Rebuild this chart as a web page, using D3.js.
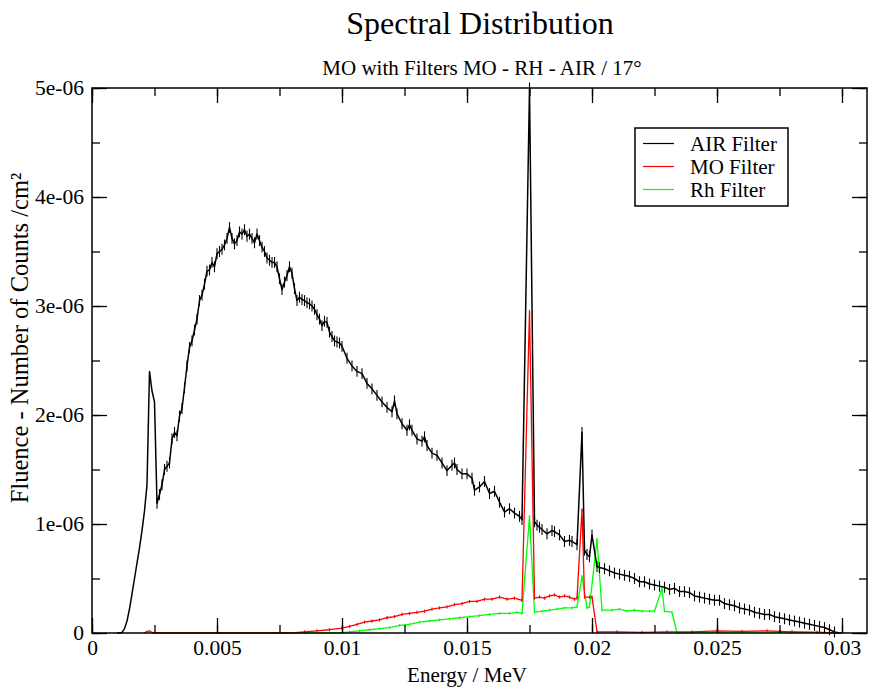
<!DOCTYPE html>
<html>
<head>
<meta charset="utf-8">
<script src="https://cdn.jsdelivr.net/npm/d3@7"></script>
<style>
  body { margin: 0; background: #fff; }
  svg { display: block; font-family: "Liberation Serif", "Times New Roman", serif; }
</style>
</head>
<body>
<svg id="chart"></svg>
<script>
// Energy in MeV, fluence in units of 1e-6 counts/cm²
const airFilter = [
  [0.0010,0],[0.0011,0],[0.0012,0.005],[0.0013,0.04],[0.0014,0.11],[0.0015,0.22],[0.0016,0.36],
  [0.0017,0.50],[0.0018,0.64],[0.0019,0.78],[0.0020,0.94],[0.0021,1.12],[0.0022,1.36],[0.0023,2.40],
  [0.0024,2.22],[0.0025,2.12],[0.0026,1.19],[0.0027,1.27],[0.0028,1.36],[0.0029,1.50],[0.0030,1.53],
  [0.0031,1.56],[0.0032,1.78],[0.0033,1.84],[0.0034,1.81],[0.0035,1.99],[0.0036,2.06],[0.0037,2.25],
  [0.0038,2.45],[0.0039,2.62],[0.0040,2.68],[0.0041,2.78],[0.0042,2.88],[0.0043,3.05],[0.0044,3.10],
  [0.0045,3.20],[0.0046,3.32],[0.0047,3.33],[0.0048,3.40],[0.0049,3.36],[0.0050,3.48],[0.0051,3.50],
  [0.0052,3.52],[0.0053,3.56],[0.0054,3.62],[0.0055,3.72],[0.0056,3.62],[0.0057,3.57],[0.0058,3.60],
  [0.0059,3.68],[0.0060,3.66],[0.0061,3.70],[0.0062,3.64],[0.0063,3.66],[0.0064,3.62],[0.0065,3.58],
  [0.0066,3.66],[0.0067,3.60],[0.0068,3.54],[0.0069,3.50],[0.0070,3.44],[0.0071,3.42],[0.0072,3.40],
  [0.0073,3.40],[0.0074,3.36],[0.0075,3.25],[0.0076,3.15],[0.0077,3.22],[0.0078,3.28],[0.0079,3.36],
  [0.0080,3.30],[0.0081,3.16],[0.0082,3.05],[0.0083,3.08],[0.0084,3.06],[0.0085,3.05],[0.0086,3.03],
  [0.0087,3.02],[0.0088,3.00],[0.0089,2.97],[0.0090,2.92],[0.0091,2.88],[0.0092,2.82],[0.0093,2.86],
  [0.0094,2.85],[0.0095,2.76],[0.0096,2.72],[0.0097,2.68],[0.0098,2.67],[0.0099,2.66],[0.0100,2.63],
  [0.0102,2.52],[0.0104,2.45],[0.0106,2.40],[0.0108,2.38],[0.0110,2.29],[0.0112,2.24],[0.0114,2.18],
  [0.0116,2.12],[0.0118,2.07],[0.0120,2.03],[0.0121,2.13],[0.0122,2.01],[0.0124,1.92],[0.0126,1.86],
  [0.0127,1.91],[0.0128,1.86],[0.0130,1.78],[0.0132,1.76],[0.0133,1.80],[0.0134,1.72],[0.0136,1.65],
  [0.0138,1.63],[0.0140,1.56],[0.0142,1.49],[0.0144,1.54],[0.0145,1.56],[0.0146,1.50],[0.0148,1.46],
  [0.0150,1.46],[0.0152,1.42],[0.0153,1.31],[0.0155,1.34],[0.0157,1.39],[0.0159,1.28],[0.0161,1.30],
  [0.0163,1.20],[0.0165,1.11],[0.0167,1.14],[0.0169,1.10],[0.0171,1.07],[0.0172,1.04],[0.0175,5.00],
  [0.0177,1.02],[0.0178,0.99],[0.0179,0.97],[0.0180,0.95],[0.0182,0.91],[0.0184,0.94],[0.0185,0.93],
  [0.0187,0.90],[0.0189,0.84],[0.0191,0.85],[0.0192,0.84],[0.0194,0.81],[0.0196,1.84],[0.0197,0.76],
  [0.0198,0.72],[0.0199,0.70],[0.0200,0.90],[0.0202,0.61],[0.0203,0.60],[0.0205,0.59],[0.0207,0.57],
  [0.0209,0.55],[0.0211,0.54],[0.0213,0.53],[0.0215,0.52],[0.0217,0.50],[0.0219,0.47],[0.0221,0.47],
  [0.0223,0.45],[0.0225,0.44],[0.0227,0.43],[0.0229,0.42],[0.0231,0.40],[0.0233,0.41],[0.0235,0.38],
  [0.0237,0.38],[0.0239,0.37],[0.0241,0.34],[0.0243,0.33],[0.0245,0.32],[0.0247,0.31],[0.0249,0.30],
  [0.0251,0.30],[0.0253,0.27],[0.0255,0.26],[0.0257,0.25],[0.0259,0.23],[0.0261,0.22],[0.0263,0.21],
  [0.0265,0.19],[0.0267,0.18],[0.0269,0.17],[0.0271,0.17],[0.0273,0.15],[0.0275,0.14],[0.0277,0.13],
  [0.0279,0.12],[0.0281,0.11],[0.0283,0.10],[0.0285,0.09],[0.0287,0.08],[0.0289,0.07],[0.0291,0.06],
  [0.0293,0.05],[0.0295,0.03],[0.0297,0.01],[0.0299,0]
];

const moFilter = [
  [0.0021,0],[0.0022,0.015],[0.0023,0.02],[0.0024,0.005],[0.0025,0],[0.0080,0],[0.0085,0.01],
  [0.0090,0.02],[0.0095,0.03],[0.0100,0.045],[0.0103,0.06],[0.0106,0.08],[0.0109,0.10],[0.0112,0.11],
  [0.0115,0.12],[0.0118,0.14],[0.0121,0.15],[0.0124,0.17],[0.0127,0.18],[0.0130,0.19],[0.0133,0.20],
  [0.0136,0.22],[0.0139,0.23],[0.0142,0.24],[0.0145,0.26],[0.0148,0.27],[0.0151,0.29],[0.0154,0.29],
  [0.0157,0.31],[0.0160,0.31],[0.0163,0.33],[0.0166,0.31],[0.0169,0.32],[0.0172,0.30],[0.0175,2.95],
  [0.0177,0.32],[0.0179,0.33],[0.0181,0.32],[0.0183,0.34],[0.0185,0.35],[0.0187,0.33],[0.0189,0.34],
  [0.0191,0.33],[0.0193,0.31],[0.0194,0.32],[0.0196,1.13],[0.0197,0.33],[0.0199,0.33],[0.0200,0.33],
  [0.0202,0.01],[0.0210,0.01],[0.0220,0.005],[0.0230,0.01],[0.0240,0.01],[0.0250,0.02],[0.0260,0.015],
  [0.0270,0.02],[0.0275,0.015],[0.0280,0.01],[0.0290,0.005],[0.0300,0]
];

const rhFilter = [
  [0.0024,0],[0.0025,0.005],[0.0026,0],[0.0099,0],[0.0103,0.01],[0.0107,0.02],[0.0111,0.03],
  [0.0115,0.04],[0.0119,0.05],[0.0123,0.07],[0.0127,0.08],[0.0131,0.10],[0.0135,0.11],[0.0139,0.12],
  [0.0143,0.13],[0.0147,0.14],[0.0151,0.15],[0.0155,0.16],[0.0159,0.17],[0.0163,0.18],[0.0167,0.18],
  [0.0170,0.19],[0.0172,0.18],[0.0175,1.07],[0.0177,0.19],[0.0180,0.20],[0.0183,0.21],[0.0186,0.22],
  [0.0189,0.23],[0.0192,0.23],[0.0194,0.24],[0.0196,0.52],[0.0198,0.23],[0.0199,0.24],[0.0202,0.86],
  [0.0204,0.21],[0.0208,0.21],[0.0211,0.22],[0.0214,0.20],[0.0217,0.21],[0.0220,0.20],[0.0223,0.20],
  [0.0225,0.20],[0.0228,0.41],[0.0229,0.20],[0.0232,0.19],[0.0234,0],[0.0240,0.005],[0.0260,0.008],
  [0.0280,0.01],[0.0290,0.005],[0.0300,0]
];

// half-height of the error bars, same units, and energy where the bars begin to show
const seriesErrors = [0.05, 0.015, 0.012];
const errorsFrom = [0.0026, 0.0080, 0.0099];
const seriesNames = ["AIR Filter", "MO Filter", "Rh Filter"];
const seriesColors = ["#000000", "#ff0000", "#00ff00"];

const xTicks = [0, 0.005, 0.01, 0.015, 0.02, 0.025, 0.03];
const xTickLabels = ["0", "0.005", "0.01", "0.015", "0.02", "0.025", "0.03"];
const yTicks = [0, 1, 2, 3, 4, 5];
const yTickLabels = ["0", "1e-06", "2e-06", "3e-06", "4e-06", "5e-06"];

const width = 873;
const height = 687;
const margin = { top: 88, right: 6, bottom: 54, left: 92 };

const svg = d3.select("#chart")
    .attr("width", width)
    .attr("height", height);

svg.append("rect").attr("width", width).attr("height", height).attr("fill", "#fff");

const x = d3.scaleLinear().domain([0, 0.031]).range([margin.left, width - margin.right]);
const y = d3.scaleLinear().domain([0, 5]).range([height - margin.bottom, margin.top]);

// curves
const line = d3.line().x(d => x(d[0])).y(d => y(d[1]));
const allSeries = [airFilter, moFilter, rhFilter];
const lineWidths = [1.5, 1.3, 1.3];

// draw green first, black last
[2, 1, 0].forEach(i => {
    const g = svg.append("g");
    g.append("path")
        .datum(allSeries[i])
        .attr("d", line)
        .attr("fill", "none")
        .attr("stroke", seriesColors[i])
        .attr("stroke-width", lineWidths[i])
        .attr("stroke-linejoin", "round");

    g.selectAll("line")
        .data(allSeries[i].filter(d => d[1] > 0 && d[0] >= errorsFrom[i]))
        .enter()
        .append("line")
        .attr("x1", d => x(d[0]))
        .attr("x2", d => x(d[0]))
        .attr("y1", d => y(d[1] - seriesErrors[i]))
        .attr("y2", d => y(d[1] + seriesErrors[i]))
        .attr("stroke", seriesColors[i])
        .attr("stroke-width", 1.1);
});

// axes, ticks pointing inward
const fontSize = 21.5;
const xMinor = d3.range(0, 0.0301, 0.0025);
const yMinor = d3.range(0, 5.01, 0.5);

svg.append("g")
    .attr("transform", `translate(0, ${height - margin.bottom})`)
    .call(d3.axisBottom(x).tickValues(xTicks).tickSize(-15).tickPadding(7)
        .tickFormat((d, i) => xTickLabels[i]));
svg.append("g")
    .attr("transform", `translate(0, ${height - margin.bottom})`)
    .call(d3.axisBottom(x).tickValues(xMinor).tickSize(-8).tickFormat(""));

svg.append("g")
    .attr("transform", `translate(${margin.left}, 0)`)
    .call(d3.axisLeft(y).tickValues(yTicks).tickSize(-15).tickPadding(8)
        .tickFormat((d, i) => yTickLabels[i]));
svg.append("g")
    .attr("transform", `translate(${margin.left}, 0)`)
    .call(d3.axisLeft(y).tickValues(yMinor).tickSize(-8).tickFormat(""));

svg.append("g")
    .attr("transform", `translate(0, ${margin.top})`)
    .call(d3.axisTop(x).tickValues(xTicks).tickSize(-15).tickFormat(""));
svg.append("g")
    .attr("transform", `translate(0, ${margin.top})`)
    .call(d3.axisTop(x).tickValues(xMinor).tickSize(-8).tickFormat(""));

svg.append("g")
    .attr("transform", `translate(${width - margin.right}, 0)`)
    .call(d3.axisRight(y).tickValues(yTicks).tickSize(-15).tickFormat(""));
svg.append("g")
    .attr("transform", `translate(${width - margin.right}, 0)`)
    .call(d3.axisRight(y).tickValues(yMinor).tickSize(-8).tickFormat(""));

svg.selectAll(".domain").remove();
svg.selectAll(".tick line").attr("stroke", "#000").attr("stroke-width", 1.3);
svg.selectAll(".tick text")
    .attr("fill", "#000")
    .style("font-family", "'Liberation Serif', 'Times New Roman', serif")
    .style("font-size", fontSize + "px");

// frame
svg.append("rect")
    .attr("x", margin.left)
    .attr("y", margin.top)
    .attr("width", width - margin.left - margin.right)
    .attr("height", height - margin.top - margin.bottom)
    .attr("fill", "none")
    .attr("stroke", "#000")
    .attr("stroke-width", 1.5);

// titles
svg.append("text")
    .attr("x", 480).attr("y", 34)
    .attr("text-anchor", "middle")
    .style("font-size", "32px")
    .text("Spectral Distribution");

svg.append("text")
    .attr("x", 482).attr("y", 75)
    .attr("text-anchor", "middle")
    .style("font-size", "21px")
    .text("MO with Filters MO - RH - AIR / 17°");

svg.append("text")
    .attr("x", 467).attr("y", 682)
    .attr("text-anchor", "middle")
    .style("font-size", "21px")
    .text("Energy / MeV");

svg.append("text")
    .attr("transform", "translate(28, 338) rotate(-90)")
    .attr("text-anchor", "middle")
    .style("font-size", "24.5px")
    .text("Fluence - Number of Counts /cm²");

// legend
const legend = svg.append("g").attr("transform", "translate(635, 128)");
legend.append("rect")
    .attr("width", 153)
    .attr("height", 78)
    .attr("fill", "#fff")
    .attr("stroke", "#000")
    .attr("stroke-width", 1.5);

const entries = legend.selectAll(".entry")
    .data(seriesNames)
    .enter()
    .append("g")
    .attr("class", "entry")
    .attr("transform", (d, i) => `translate(0, ${15.5 + i * 23})`);

entries.append("line")
    .attr("x1", 8).attr("x2", 39)
    .attr("stroke", (d, i) => seriesColors[i])
    .attr("stroke-width", 1.2);

entries.append("text")
    .attr("x", 55)
    .attr("dy", "0.35em")
    .style("font-size", "21px")
    .text(d => d);
</script>
</body>
</html>
